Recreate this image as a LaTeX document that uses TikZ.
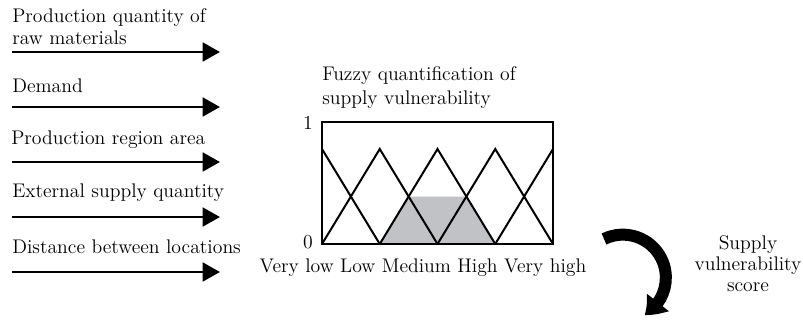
\documentclass[tikz,border=0pt]{standalone}
\usetikzlibrary{arrows.meta,bending}
\definecolor{fillgray}{RGB}{193,194,197}
\tikzset{
	txt/.style={font=\fontsize{14.8}{17}\selectfont, inner sep=0pt},
	inarrow/.style={line width=2.2pt, -{Triangle[length=13pt,width=14pt]}},
	member/.style={line width=1.5pt},
	bigarrow/.style={line width=9pt, -{Triangle[length=14pt,width=20pt,bend]}},
}
\begin{document}
\begin{tikzpicture}[x=0.75pt,y=-0.75pt]
		\useasboundingbox (0,0) rectangle (803,322);
		%input factors
		\node[txt,anchor=west,align=left] (qty) at (12,26.5){Production quantity of\\raw materials};
		\node[txt,anchor=west] (dem) at (12,86){Demand};
		\node[txt,anchor=west] (area) at (11,140){Production region area};
		\node[txt,anchor=west] (ext) at (12,193){External supply quantity};
		\node[txt,anchor=west] (dist) at (12,247){Distance between locations};
		
		\foreach \y [count=\i] in {52, 107, 162, 217, 272}{
			\coordinate (s\i) at (12, \y);
			\coordinate (e\i) at (220, \y);
			\draw[inarrow] (s\i) -- (e\i);
		}
		
		%fuzzy sets
		\node[txt,anchor=west,align=left,font=\fontsize{14.8}{18.5}\selectfont] (title) at (322,87.5){Fuzzy quantification of\\supply vulnerability};
		\fill[fillgray] (380,244) -- (409,196.5) -- (467,196.5) -- (496,244) -- cycle;
		\begin{scope}
			\clip (322,122) rectangle (553,244);
			\foreach \k in {0, 1, 2, 3, 4}{
				\draw[member] (322+57.75*\k-57.75, 244) -- (322+57.75*\k, 149) -- (322+57.75*\k+57.75, 244);
			}
		\end{scope}
		\draw[line width=2pt] (322,122) rectangle (553,244);
		\node[txt] (one) at (308,123){1};
		\node[txt] (zero) at (308,242){0};
		\node[txt] (terms) at (423,268){Very low Low Medium High Very high};
		
		%score
		\coordinate (cs) at (604,239);
		\draw[bigarrow] (cs) arc[start angle=-116, end angle=60, radius=43];
		\node[txt,align=center,font=\fontsize{14.8}{15.75}\selectfont] (score) at (748,264){Supply\\vulnerability\\score};
\end{tikzpicture}
\end{document}
